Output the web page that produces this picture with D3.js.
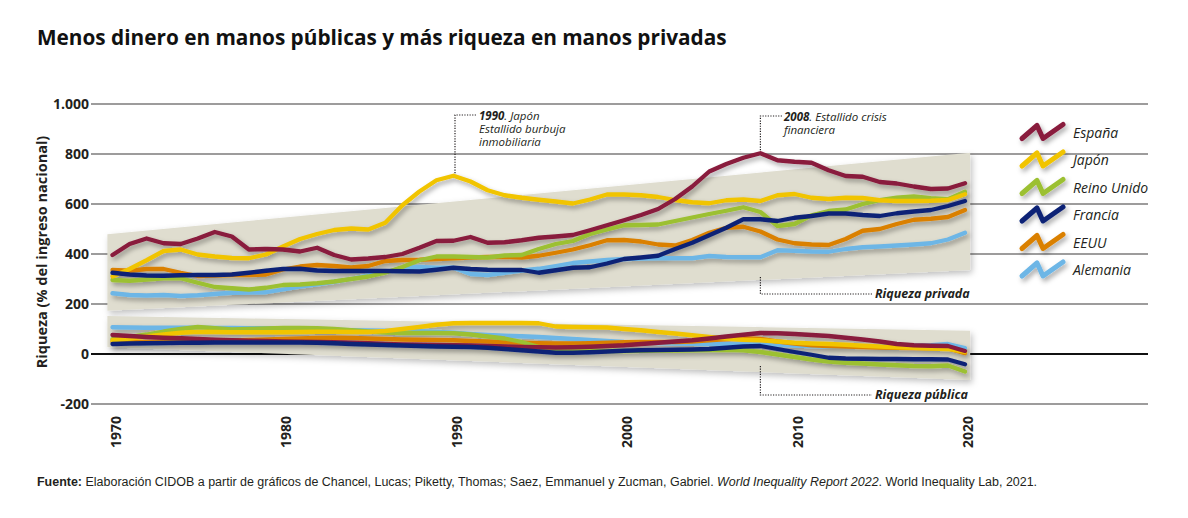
<!DOCTYPE html>
<html>
<head>
<meta charset="utf-8">
<script src="https://cdn.jsdelivr.net/npm/d3@7"></script>
<style>
    body { margin: 0; background: #fff; }
    svg { display: block; font-family: 'Open Sans', 'Noto Sans', sans-serif; }
</style>
</head>
<body>
<svg id="chart" width="1188" height="518"></svg>
<script>
// Riqueza privada y pública (% del ingreso nacional), 1970-2020
let years = d3.range(1970, 2021)
let countries = ['España', 'Japón', 'Reino Unido', 'Francia', 'EEUU', 'Alemania']
let colors = ['#891a3c', '#f1c400', '#9cc030', '#0b2376', '#da8005', '#6db6e6']
let yTicks = [1000, 800, 600, 400, 200, 0, -200]
let yTickLabels = ['1.000', '800', '600', '400', '200', '0', '-200']
let xTicks = [1970, 1980, 1990, 2000, 2010, 2020]

let privEspana = [396, 440, 462, 443, 440, 462, 488, 470, 418, 420, 418, 410, 425, 396, 378, 382, 388, 400, 425, 452,
    453, 468, 445, 447, 455, 465, 470, 476, 495, 515, 535, 556, 580, 620, 670, 730, 760, 785, 803, 775,
    769, 765, 735, 712, 709, 688, 682, 670, 660, 662, 683]
let privJapon = [310, 340, 375, 412, 418, 398, 390, 384, 383, 398, 430, 460, 480, 496, 502, 498, 525, 595, 650, 695,
    713, 690, 655, 635, 625, 617, 610, 602, 618, 638, 638, 635, 628, 616, 607, 603, 615, 618, 612, 635,
    640, 625, 620, 625, 624, 615, 612, 612, 613, 616, 639]
let privReinoUnido = [296, 293, 298, 303, 303, 285, 268, 263, 258, 265, 276, 278, 283, 290, 300, 310, 325, 348, 375, 390,
    390, 388, 386, 394, 396, 420, 440, 452, 480, 498, 515, 516, 518, 532, 546, 560, 573, 587, 568, 512,
    520, 555, 572, 578, 600, 615, 625, 630, 623, 619, 649]
let privFrancia = [325, 318, 314, 313, 315, 316, 316, 318, 325, 333, 340, 341, 334, 332, 332, 332, 332, 331, 330, 337,
    345, 340, 337, 336, 336, 325, 335, 345, 347, 362, 380, 386, 393, 420, 445, 475, 505, 539, 539, 532,
    545, 552, 562, 562, 556, 552, 563, 570, 576, 592, 612]
let privEEUU = [336, 333, 340, 340, 325, 312, 314, 316, 316, 318, 338, 350, 356, 352, 346, 352, 372, 376, 377, 380,
    383, 386, 388, 389, 386, 393, 405, 418, 435, 455, 456, 450, 438, 434, 456, 485, 505, 509, 490, 458,
    443, 438, 436, 460, 493, 500, 520, 537, 541, 548, 576]
let privAlemania = [243, 236, 234, 236, 232, 235, 240, 245, 246, 247, 258, 269, 279, 289, 300, 315, 327, 345, 348, 345,
    345, 320, 316, 325, 334, 341, 352, 364, 370, 376, 380, 382, 383, 383, 383, 392, 388, 387, 387, 415,
    413, 410, 409, 420, 427, 430, 434, 438, 443, 458, 485]

let pubEspana = [76, 72, 68, 65, 63, 60, 57, 55, 53, 52, 50, 49, 48, 47, 45, 43, 40, 38, 37, 36,
    35, 34, 32, 30, 28, 27, 26, 27, 29, 32, 35, 40, 45, 50, 55, 62, 70, 77, 84, 83,
    80, 76, 72, 65, 58, 50, 40, 35, 33, 32, 12]
let pubJapon = [55, 62, 70, 78, 85, 89, 88, 87, 87, 87, 87, 88, 89, 89, 88, 88, 92, 100, 108, 117,
    123, 124, 124, 124, 124, 123, 110, 108, 107, 106, 100, 95, 88, 82, 75, 68, 62, 57, 55, 50,
    45, 42, 40, 37, 33, 30, 27, 25, 22, 20, 8]
let pubReinoUnido = [59, 68, 78, 90, 100, 108, 103, 98, 100, 102, 104, 104, 103, 100, 95, 90, 86, 84, 84, 84,
    83, 78, 70, 62, 48, 28, 18, 15, 13, 12, 12, 13, 14, 14, 15, 16, 17, 15, 8, -2,
    -12, -22, -30, -35, -38, -42, -45, -48, -49, -46, -70]
let pubFrancia = [40, 42, 43, 44, 45, 45, 46, 46, 46, 46, 46, 46, 45, 43, 40, 38, 36, 34, 32, 30,
    29, 28, 25, 20, 15, 10, 5, 5, 7, 10, 13, 15, 16, 17, 18, 20, 25, 30, 32, 20,
    8, -3, -15, -18, -19, -20, -20, -21, -21, -22, -41]
let pubEEUU = [49, 48, 48, 49, 50, 52, 53, 54, 56, 58, 60, 62, 64, 65, 64, 62, 60, 58, 57, 56,
    55, 52, 50, 47, 45, 43, 42, 42, 43, 45, 47, 48, 48, 48, 50, 55, 60, 63, 60, 50,
    42, 35, 32, 30, 28, 26, 25, 24, 23, 22, 3]
let pubAlemania = [107, 106, 105, 105, 105, 105, 104, 104, 103, 103, 102, 100, 98, 96, 95, 94, 93, 92, 91, 88,
    85, 80, 76, 73, 71, 68, 64, 60, 56, 52, 48, 46, 44, 42, 41, 40, 39, 38, 38, 37,
    34, 32, 30, 30, 30, 31, 32, 33, 35, 40, 24]

// the two shaded trend bands (start/end year, top and bottom value)
let bandYears = [1969.7, 2020.3]
let privBandTop = [479, 805]
let privBandBottom = [173, 336]
let pubBandTop = [152, 93]
let pubBandBottom = [27, -104]

let privSeries = [privEspana, privJapon, privReinoUnido, privFrancia, privEEUU, privAlemania]
let pubSeries = [pubEspana, pubJapon, pubReinoUnido, pubFrancia, pubEEUU, pubAlemania]
let drawOrder = [5, 4, 2, 1, 0, 3]

let svg = d3.select('#chart')
let x = d3.scaleLinear().domain([1970, 2020]).range([112.5, 965])
let y = d3.scaleLinear().domain([-200, 1000]).range([404, 104])

let defs = svg.append('defs')
let shadow = defs.append('filter')
    .attr('id', 'shadow')
    .attr('filterUnits', 'userSpaceOnUse')
    .attr('x', 0).attr('y', 0).attr('width', 1188).attr('height', 518)
shadow.append('feDropShadow')
    .attr('dx', 2).attr('dy', 3)
    .attr('stdDeviation', 2.5)
    .attr('flood-color', '#000')
    .attr('flood-opacity', 0.35)

let bandShadow = defs.append('filter')
    .attr('id', 'band-shadow')
    .attr('filterUnits', 'userSpaceOnUse')
    .attr('x', 0).attr('y', 0).attr('width', 1188).attr('height', 518)
bandShadow.append('feDropShadow')
    .attr('dx', 2).attr('dy', 3)
    .attr('stdDeviation', 3)
    .attr('flood-color', '#000')
    .attr('flood-opacity', 0.25)

// title
let title = svg.append('text')
    .attr('x', 37)
    .attr('y', 45)
    .style('font-family', "'Open Sans', sans-serif")
    .style('font-weight', 700)
    .style('font-size', '21px')
    .style('fill', '#111')
    .text('Menos dinero en manos públicas y más riqueza en manos privadas')
let tw = title.node().getComputedTextLength()
title.style('font-size', (21 * 690 / tw) + 'px')

// grid
let grid = svg.append('g')
grid.selectAll('line')
    .data(yTicks)
    .enter()
    .append('line')
    .attr('x1', 91)
    .attr('x2', 1148)
    .attr('y1', d => y(d))
    .attr('y2', d => y(d))
    .style('stroke', d => d == 0 ? '#111' : '#7d7b7b')
    .style('stroke-width', d => d == 0 ? 2 : 1.3)

grid.selectAll('text')
    .data(yTicks)
    .enter()
    .append('text')
    .attr('x', 89)
    .attr('y', d => y(d))
    .attr('dy', '0.36em')
    .attr('text-anchor', 'end')
    .style('font-weight', 700)
    .style('font-size', '14px')
    .style('fill', '#231f20')
    .text((d, i) => yTickLabels[i])

svg.append('text')
    .attr('transform', 'translate(47,252) rotate(-90)')
    .attr('text-anchor', 'middle')
    .style('font-weight', 700)
    .style('font-size', '14.5px')
    .style('fill', '#231f20')
    .text('Riqueza (% del ingreso nacional)')

svg.append('g')
    .selectAll('text')
    .data(xTicks)
    .enter()
    .append('text')
    .attr('transform', d => 'translate(' + (x(d) + 3) + ',416) rotate(-90)')
    .attr('dy', '0.36em')
    .attr('text-anchor', 'end')
    .style('font-weight', 700)
    .style('font-size', '14px')
    .style('fill', '#231f20')
    .text(d => d)

// bands
function band(top, bottom) {
    return [
        [x(bandYears[0]), y(top[0])],
        [x(bandYears[1]), y(top[1])],
        [x(bandYears[1]), y(bottom[1])],
        [x(bandYears[0]), y(bottom[0])]
    ]
}
svg.append('g')
    .selectAll('polygon')
    .data([band(privBandTop, privBandBottom), band(pubBandTop, pubBandBottom)])
    .enter()
    .append('polygon')
    .attr('points', d => d.map(p => p.join(',')).join(' '))
    .style('fill', '#dfddcf')
    .style('filter', 'url(#band-shadow)')

// lines
let line = d3.line()
    .x((d, i) => x(years[i]))
    .y(d => y(d))
    .curve(d3.curveLinear)

let lines = svg.append('g').style('filter', 'url(#shadow)')
for (let group of [pubSeries, privSeries]) {
    for (let k of drawOrder) {
        lines.append('path')
            .datum(group[k])
            .attr('d', line)
            .style('fill', 'none')
            .style('stroke', colors[k])
            .style('stroke-width', 4.3)
            .style('stroke-linejoin', 'round')
            .style('stroke-linecap', 'round')
    }
}

// annotations
let ann = svg.append('g')
function dotted(points) {
    ann.append('polyline')
        .attr('points', points.map(p => p.join(',')).join(' '))
        .style('fill', 'none')
        .style('stroke', '#231f20')
        .style('stroke-width', 1.2)
        .style('stroke-dasharray', '1.2,1.4')
}
dotted([[x(1990) + 1.5, y(715) - 2], [x(1990) + 1.5, 115], [477, 115]])
dotted([[x(2008), y(803) - 3], [x(2008), 116], [782, 116]])
dotted([[x(2008), 277], [x(2008), 294], [872, 294]])
dotted([[x(2008), 366], [x(2008), 395], [872, 395]])

function note(xp, yp, parts) {
    let t = ann.append('text')
        .attr('x', xp)
        .attr('y', yp)
        .style('font-style', 'italic')
        .style('font-size', '11.5px')
        .style('fill', '#231f20')
    for (let p of parts) {
        t.append('tspan').style('font-weight', p[1] ? 700 : 400).text(p[0])
    }
}
note(479, 120, [['1990', true], ['. Japón', false]])
note(479, 133, [['Estallido burbuja', false]])
note(479, 146, [['inmobiliaria', false]])
note(784, 121, [['2008', true], ['. Estallido crisis', false]])
note(784, 134, [['financiera', false]])

ann.append('text')
    .attr('x', 875).attr('y', 298)
    .style('font-style', 'italic').style('font-weight', 700).style('font-size', '12.5px')
    .style('fill', '#231f20')
    .text('Riqueza privada')
ann.append('text')
    .attr('x', 875).attr('y', 399)
    .style('font-style', 'italic').style('font-weight', 700).style('font-size', '12.5px')
    .style('fill', '#231f20')
    .text('Riqueza pública')

// legend
let legend = svg.append('g')
countries.forEach((name, i) => {
    let yy = 137.5 + i * 27.5
    legend.append('polyline')
        .attr('points', [[1022, yy + 1], [1037, yy - 12], [1043, yy + 1], [1063, yy - 13]].map(p => p.join(',')).join(' '))
        .style('fill', 'none')
        .style('stroke', colors[i])
        .style('stroke-width', 5)
        .style('stroke-linecap', 'round')
        .style('stroke-linejoin', 'round')
        .style('filter', 'url(#shadow)')
    legend.append('text')
        .attr('x', 1073)
        .attr('y', yy)
        .style('font-style', 'italic')
        .style('font-size', '14px')
        .style('fill', '#231f20')
        .text(name)
})

// source
let src = svg.append('text')
    .attr('x', 37)
    .attr('y', 486)
    .style('font-family', "'Liberation Sans', sans-serif")
    .style('font-size', '13px')
    .style('fill', '#231f20')
src.append('tspan').style('font-weight', 700).text('Fuente:')
src.append('tspan').text(' Elaboración CIDOB a partir de gráficos de  Chancel, Lucas; Piketty, Thomas; Saez, Emmanuel y Zucman, Gabriel. ')
src.append('tspan').style('font-style', 'italic').text('World Inequality Report 2022')
src.append('tspan').text('. World Inequality Lab, 2021.')
let sw = src.node().getComputedTextLength()
src.style('font-size', (13 * 1001 / sw) + 'px')
</script>
</body>
</html>
